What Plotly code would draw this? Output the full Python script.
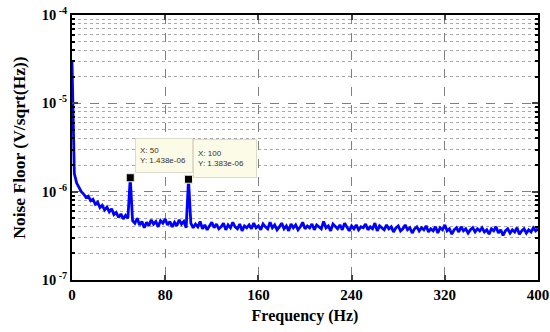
import plotly.graph_objects as go

# Frequency axis (Hz), 2 Hz spacing
freq = list(range(0, 401, 2))

# Noise floor values in units of 1e-7 V/sqrt(Hz)
nf_0_48 = [300, 16, 12.5, 11, 10, 9.4, 8.6, 8.9, 7.9, 8.2, 7.2, 7.6, 6.6, 7.0, 6.2,
           6.7, 5.9, 6.4, 5.5, 5.8, 5.1, 5.6, 4.9, 5.4, 5.0]
nf_50 = [14.38]
nf_52_98 = [4.7, 4.4, 5.0, 4.2, 4.6, 3.9, 4.5, 4.1, 4.8, 4.3, 4.6, 4.0, 4.7, 4.4, 4.9,
            4.2, 4.6, 4.0, 4.5, 4.1, 4.8, 4.3, 4.6, 3.9]
nf_100 = [13.83]
nf_102_400 = [
    4.4, 3.9, 4.3, 4.0, 4.6, 3.8, 4.2, 3.7, 4.1, 4.5, 3.9, 4.3, 3.8, 4.0, 4.4, 3.7, 4.2, 3.9, 4.5, 4.0, 3.8, 4.3, 3.6, 4.1, 3.9,
    4.2, 3.8, 4.4, 3.9, 4.1, 3.7, 4.3, 4.0, 3.8, 4.5, 3.9, 4.2, 3.7, 4.0, 4.4, 3.8, 4.1, 3.6, 4.3, 3.9, 4.2, 3.7, 4.0, 4.5, 3.8,
    4.1, 3.9, 4.3, 3.7, 4.2, 4.0, 3.8, 4.6, 3.9, 4.1, 3.6, 4.3, 4.0, 3.8, 4.2, 3.7, 4.4, 3.9, 3.6, 4.1, 3.8, 4.2, 3.7, 4.0, 3.9,
    4.3, 3.7, 4.0, 3.8, 4.4, 3.6, 4.1, 3.9, 3.7, 4.2, 3.8, 4.0, 3.5, 3.9, 4.1, 3.6, 3.8, 4.2, 3.7, 3.9, 3.4, 3.8, 4.0, 3.6, 3.9,
    3.7, 4.1, 3.5, 3.8, 3.6, 4.0, 3.4, 3.9, 3.7, 4.2, 3.6, 3.8, 3.3, 3.7, 3.9, 3.5, 4.0, 3.6, 3.8, 3.4, 3.7, 3.9, 3.5, 3.8, 3.6,
    3.9, 3.5, 3.7, 3.3, 3.8, 3.6, 4.0, 3.4, 3.7, 3.2, 3.6, 3.8, 3.4, 3.7, 3.5, 3.9, 3.3, 3.6, 3.8, 3.4, 3.7, 3.5, 3.9, 3.6, 3.8,
]
noise_e7 = nf_0_48 + nf_50 + nf_52_98 + nf_100 + nf_102_400
noise = [v * 1e-7 for v in noise_e7]

# Data tips
tip_x = [50, 100]
tip_y = [1.438e-06, 1.383e-06]
tip_labels = ["X: 50<br>Y: 1.438e-06", "X: 100<br>Y: 1.383e-06"]

x_ticks = [0, 80, 160, 240, 320, 400]
y_ticks = [1e-7, 1e-6, 1e-5, 1e-4]
y_ticktext = ["10<sup> -7</sup>", "10<sup> -6</sup>", "10<sup> -5</sup>", "10<sup> -4</sup>"]
y_minor = [k * 10.0 ** e for e in (-7, -6, -5) for k in range(2, 10)]

fig = go.Figure()
fig.add_trace(go.Scatter(x=freq, y=noise, mode="lines",
                         line=dict(color="#0000ff", width=2.8), showlegend=False))
fig.add_trace(go.Scatter(x=tip_x, y=tip_y, mode="markers",
                         marker=dict(symbol="square", size=8, color="black",
                                     line=dict(color="#f0f0d8", width=1)),
                         showlegend=False))

tip_ax = [54.1, 103.9]
tip_ay = [-5.789, -5.845]
tip_w = [48, 54]
tip_h = [25, 29]
for xa, ya, txt, w, h in zip(tip_ax, tip_ay, tip_labels, tip_w, tip_h):
    fig.add_annotation(x=xa, y=ya, xref="x", yref="y", text=txt, showarrow=False,
                       xanchor="left", yanchor="bottom", align="left", valign="middle",
                       width=w, height=h,
                       bgcolor="#fbfbe8", bordercolor="#dcdcc8", borderwidth=1, borderpad=4,
                       font=dict(family="Liberation Sans, Arial", size=8, color="#333"))

font_serif = "Liberation Serif, Times New Roman, serif"
fig.update_layout(
    width=550, height=332,
    margin=dict(l=72, r=12, t=15, b=52, autoexpand=False),
    paper_bgcolor="white", plot_bgcolor="white",
    font=dict(family=font_serif, color="black"),
    xaxis=dict(range=[0, 400], tickvals=x_ticks, automargin=False,
               ticktext=[f"<b>{v}</b>" for v in x_ticks],
               tickfont=dict(size=15), ticks="inside", ticklen=5, tickwidth=1.5,
               showline=True, linecolor="black", linewidth=2, mirror="ticks",
               showgrid=True, gridcolor="#808080", griddash="dash", gridwidth=1,
               zeroline=False,
               title=dict(text="<b>Frequency (Hz)</b>", font=dict(size=16), standoff=8)),
    yaxis=dict(type="log", range=[-7, -4], tickvals=y_ticks, automargin=False,
               ticktext=[f"<b>{t}</b>" for t in y_ticktext],
               tickfont=dict(size=14.5), ticks="inside", ticklen=6, tickwidth=1.5,
               showline=True, linecolor="black", linewidth=2, mirror="ticks",
               showgrid=True, gridcolor="#808080", griddash="dash", gridwidth=1,
               zeroline=False,
               minor=dict(tickvals=y_minor, ticks="inside", ticklen=3, tickcolor="black",
                          showgrid=True, gridcolor="#a8a8a8", griddash="dot", gridwidth=1),
               title=dict(text="<b>Noise Floor (V/sqrt(Hz))</b>", font=dict(size=17.5), standoff=12)),
)

fig.write_html("out.html", config={"displayModeBar": False},
               post_script="document.body.style.margin='0';document.body.style.overflow='hidden';")
